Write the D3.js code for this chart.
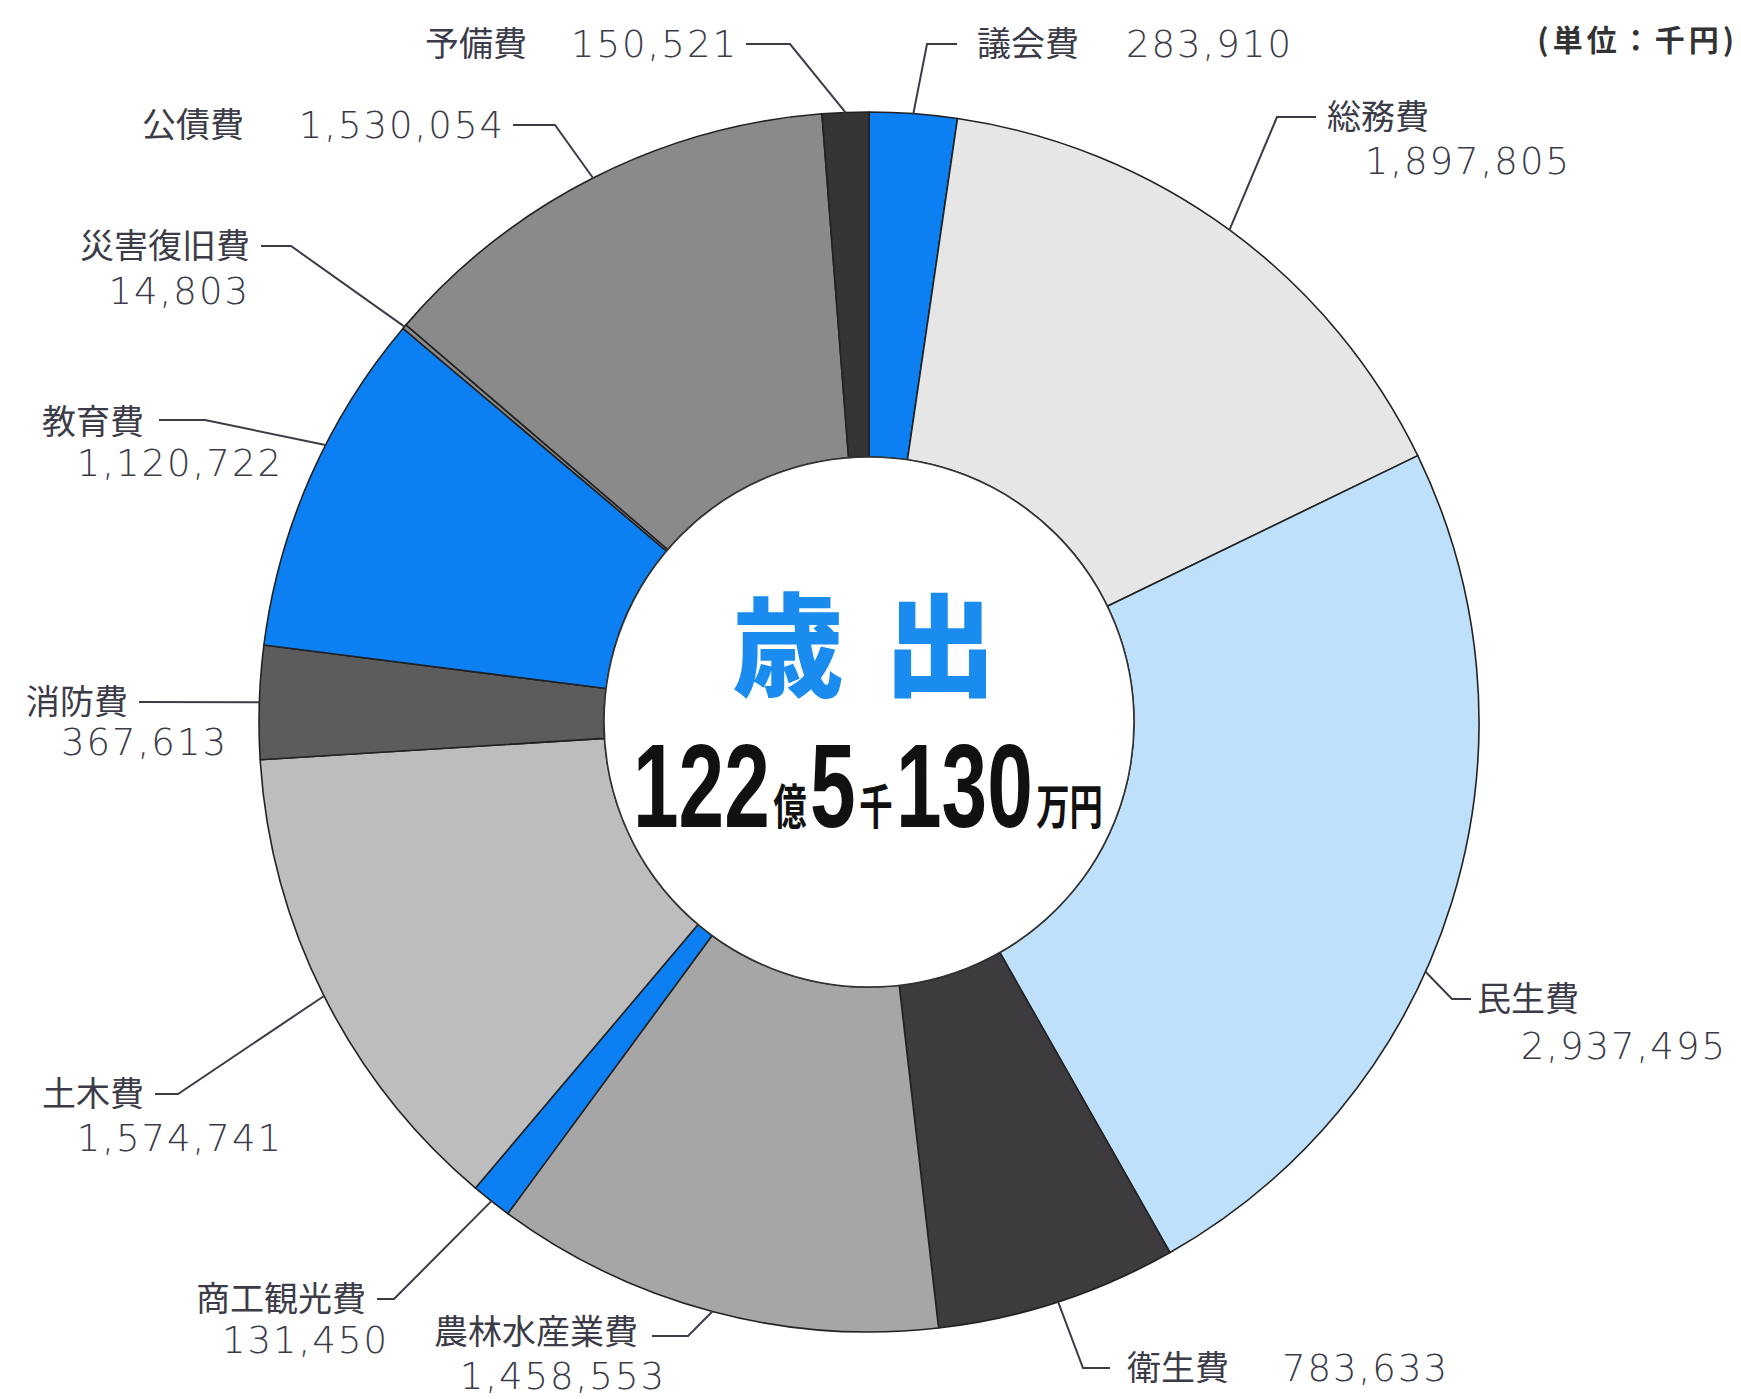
<!DOCTYPE html>
<html>
<head>
<meta charset="utf-8">
<script src="https://cdn.jsdelivr.net/npm/d3@7"></script>
<style>
  html, body { margin: 0; padding: 0; background: #fff; }
  svg { display: block; }
  .lbl { font-family: "Noto Sans CJK JP", sans-serif; font-size: 34px; fill: #3c3c48; }
  .num { font-family: "DejaVu Sans", sans-serif; font-size: 37px; font-weight: 300; fill: #3c3c48; letter-spacing: 2px; }
  .leader { fill: none; stroke: #3c3c48; stroke-width: 2; }
</style>
</head>
<body>
<script>
// data (単位：千円)
var categories = ["議会費", "総務費", "民生費", "衛生費", "農林水産業費", "商工観光費",
                  "土木費", "消防費", "教育費", "災害復旧費", "公債費", "予備費"];
var values = [283910, 1897805, 2937495, 783633, 1458553, 131450,
              1574741, 367613, 1120722, 14803, 1530054, 150521];
var valueLabels = ["283,910", "1,897,805", "2,937,495", "783,633", "1,458,553", "131,450",
                   "1,574,741", "367,613", "1,120,722", "14,803", "1,530,054", "150,521"];
var colors = ["#0c7ff2", "#e6e6e6", "#bfe0fb", "#3d3b3e", "#a6a6a6", "#0c7ff2",
              "#bdbdbd", "#5c5c5c", "#0c7ff2", "#8c8c8c", "#8a8a8a", "#353535"];
var centerTitle = "歳出";
var totalParts = [["122", "big"], ["億", "small"], ["5", "big"], ["千", "small"], ["130", "big"], ["万円", "small"]];
var unitLabel = "(単位：千円)";

//Set dimensions
var width = 1741,
    height = 1399,
    cx = 869,
    cy = 722,
    outerR = 610,
    innerR = 265;

//Label placement: where the leader bends, where it ends, where the text sits
var layout = [
  {t: 0.5, pts: [[927, 44], [957, 44]], name: [977, 44, "start"], num: [1293, 44, "end"]},
  {t: 0.5, pts: [[1277, 117], [1316, 117]], name: [1327, 117, "start"], num: [1571, 161, "end"]},
  {t: 0.58, pts: [[1452, 999], [1471, 999]], name: [1477, 999, "start"], num: [1727, 1046, "end"]},
  {t: 0.5, pts: [[1083, 1368], [1110, 1368]], name: [1127, 1368, "start"], num: [1449, 1368, "end"]},
  {t: 0.5, pts: [[688, 1336], [652, 1336]], name: [638, 1332, "end"], num: [666, 1376, "end"]},
  {t: 0.5, pts: [[394, 1299], [377, 1299]], name: [366, 1299, "end"], num: [389, 1340, "end"]},
  {t: 0.5, pts: [[178, 1094], [155, 1094]], name: [144, 1094, "end"], num: [283, 1138, "end"]},
  {t: 0.5, pts: [[139, 702]], name: [128, 702, "end"], num: [228, 742, "end"]},
  {t: 0.6, pts: [[205, 420], [159, 420]], name: [144, 422, "end"], num: [283, 463, "end"]},
  {t: 0.5, pts: [[291, 246], [261, 246]], name: [250, 246, "end"], num: [250, 291, "end"]},
  {t: 0.5, pts: [[555, 125], [513, 125]], name: [142, 125, "start"], num: [505, 125, "end"]},
  {t: 0.5, pts: [[790, 44], [746, 44]], name: [425, 44, "start"], num: [738, 44, "end"]}
];

var data = categories.map(function (c, i) {
    return {label: c, value: values[i], text: valueLabels[i], color: colors[i], pos: layout[i]};
});

var svg = d3.select("body").append("svg")
    .attr("width", width)
    .attr("height", height);

//Pie layout, starting at 12 o'clock going clockwise
var pie = d3.pie()
    .sort(null)
    .value(function (d) { return d.value; });

var arc = d3.arc()
    .outerRadius(outerR)
    .innerRadius(innerR);

var g = svg.append("g")
    .attr("transform", "translate(" + cx + "," + cy + ")");

var arcs = pie(data);

g.selectAll(".slice")
    .data(arcs)
    .enter().append("path")
    .attr("class", "slice")
    .attr("d", arc)
    .style("fill", function (d) { return d.data.color; })
    .style("stroke", "#222")
    .style("stroke-width", 1.6)
    .style("stroke-linejoin", "round");

//Inner circle
g.append("circle")
    .attr("r", innerR)
    .style("fill", "#fff")
    .style("stroke", "#333")
    .style("stroke-width", 1.6);

//Leader lines from the outer edge of each slice
svg.selectAll(".leader")
    .data(arcs)
    .enter().append("path")
    .attr("class", "leader")
    .attr("d", function (d) {
        var a = d.startAngle + (d.endAngle - d.startAngle) * d.data.pos.t;
        var start = [cx + outerR * Math.sin(a), cy - outerR * Math.cos(a)];
        return d3.line()([start].concat(d.data.pos.pts));
    });

//Category names
svg.selectAll(".lbl")
    .data(data)
    .enter().append("text")
    .attr("class", "lbl")
    .attr("x", function (d) { return d.pos.name[0]; })
    .attr("y", function (d) { return d.pos.name[1]; })
    .attr("dy", "0.36em")
    .attr("text-anchor", function (d) { return d.pos.name[2]; })
    .text(function (d) { return d.label; });

//Values
svg.selectAll(".num")
    .data(data)
    .enter().append("text")
    .attr("class", "num")
    .attr("x", function (d) { return d.pos.num[0]; })
    .attr("y", function (d) { return d.pos.num[1]; })
    .attr("dy", "0.36em")
    .attr("text-anchor", function (d) { return d.pos.num[2]; })
    .text(function (d) { return d.text; });

//Unit
svg.append("text")
    .attr("x", 1738)
    .attr("y", 40)
    .attr("dy", "0.36em")
    .attr("text-anchor", "end")
    .style("font-family", "Noto Sans CJK JP")
    .style("font-size", "30px")
    .style("font-weight", 700)
    .style("letter-spacing", "4px")
    .style("fill", "#333")
    .text(unitLabel);

//Center title
svg.append("text")
    .attr("x", 884)
    .attr("y", 648)
    .attr("dy", "0.36em")
    .attr("text-anchor", "middle")
    .style("font-family", "Noto Sans CJK JP")
    .style("font-size", "112px")
    .style("font-weight", 900)
    .style("letter-spacing", "40px")
    .style("fill", "#1a8cf0")
    .text(centerTitle);

//Center total, condensed horizontally to fit the ring's hole
var totalLeft = 633,
    totalWidth = 470;
var totalG = svg.append("g");

var cursor = 0;
totalParts.forEach(function (p) {
    var big = p[1] === "big";
    var t = totalG.append("text")
        .attr("x", cursor)
        .attr("y", big ? 0 : -3)
        .style("font-family", big ? "'Liberation Sans', 'DejaVu Sans', sans-serif" : "Noto Sans CJK JP")
        .style("font-size", big ? "118px" : "48px")
        .style("font-weight", 700)
        .style("fill", "#111")
        .text(p[0]);
    cursor += t.node().getComputedTextLength() + 5;
});
var sx = totalWidth / (cursor - 5);
totalG.attr("transform", "translate(" + totalLeft + ",827) scale(" + sx + ",1)");
</script>
</body>
</html>
